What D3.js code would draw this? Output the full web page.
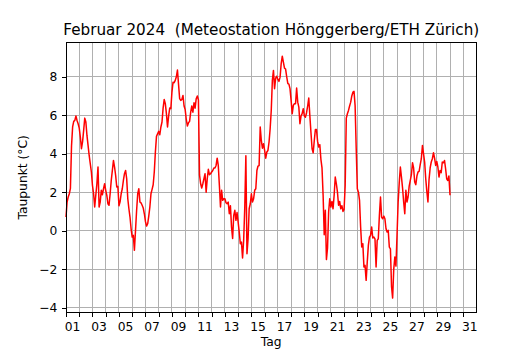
<!DOCTYPE html>
<html>
<head>
<meta charset="utf-8">
<script src="https://cdn.jsdelivr.net/npm/d3@7/dist/d3.min.js"></script>
<style>
  body { margin: 0; background: #ffffff; }
  text { font-family: "DejaVu Sans", sans-serif; fill: #000; }
</style>
</head>
<body>
<div id="chart"></div>
<script>
var stepHours = 2;
var dewPoint = [
  0.71, 1.49, 1.75, 1.92, 2.2, 4.4, 5.39, 5.68, 5.73, 5.96, 5.73, 5.56,
  5.33, 4.87, 4.26, 4.61, 5.21, 5.85, 5.65, 4.95, 4.43, 3.91, 3.48, 3.05,
  2.35, 1.92, 1.23, 1.84, 2.44, 3.31, 1.23, 1.49, 2.10, 1.87, 2.18, 2.44,
  2.10, 1.84, 1.40, 1.32, 1.92, 2.61, 3.13, 3.65, 3.31, 2.87, 2.27, 2.3,
  1.3, 1.5, 1.92, 2.18, 2.61, 2.96, 3.13, 2.70, 1.66, 1.14, 0.71, 0.10,
  -0.33, -0.24, -1.02, 0.02, 1.06, 1.92, 2.18, 1.49, 1.45, 1.32, 1.18, 0.88,
  0.48, 0.24, 0.36, 0.76, 1.23, 1.92, 2.15, 2.39, 3.05, 4.09, 4.90, 5.04,
  5.16, 4.99, 5.39, 5.65, 6.37, 6.82, 6.60, 6.08, 5.39, 5.96, 6.37, 6.34,
  7.20, 7.72, 7.69, 7.81, 8.0, 8.35, 7.6, 6.86, 6.77, 6.82, 7.03, 6.48,
  6.29, 5.78, 5.44, 5.61, 5.68, 6.16, 6.48, 6.16, 6.65, 6.37, 6.86, 7.00,
  6.8, 2.9, 2.44, 2.22, 2.44, 2.70, 2.96, 2.0, 2.70, 3.19, 2.91, 2.96,
  3.05, 3.13, 3.26, 3.26, 3.39, 3.77, 3.39, 2.35, 1.23, 2.10, 1.58, 1.66,
  1.66, 1.45, 1.40, 1.49, 0.88, 1.3, 0.2, -0.4, 0.80, 1.06, 0.54, 0.94,
  0.45, -0.07, -0.68, -0.59, -1.42, -0.50, 1.2, 3.9, -1.2, -0.42, 1.14, 1.40,
  1.92, 1.49, 1.66, 2.10, 2.18, 3.13, 3.36, 3.39, 5.39, 4.69, 4.29, 4.52,
  4.17, 3.77, 4.09, 4.17, 4.61, 5.30, 6.25, 7.81, 8.33, 7.38, 7.93, 8.03,
  7.86, 7.76, 7.98, 8.68, 9.07, 8.76, 8.45, 8.4, 8.0, 7.65, 7.62, 7.38,
  6.77, 6.08, 6.51, 6.60, 6.60, 7.41, 6.68, 6.42, 5.56, 5.96, 6.08, 6.34,
  5.96, 5.90, 6.13, 6.48, 6.89, 5.96, 5.09, 4.26, 4.05, 4.69, 5.26, 5.26,
  4.64, 4.35, 4.47, 3.71, 3.26, 1.84, -0.21, 1.06, -1.5, -0.9, 0.97, 1.66,
  1.23, 1.52, 1.14, 1.84, 2.79, 2.44, 2.0, 1.32, 1.52, 1.14, 1.3, 1.0,
  1.1, 2.35, 5.85, 6.08, 6.25, 6.48, 6.68, 7.0, 7.20, 7.24, 6.5, 4.26,
  2.18, 2.0, 1.58, 0.19, -0.85, -0.68, -1.89, -1.80, -2.58, -1.63, -0.76, -0.33,
  -0.24, 0.19, -0.38, -0.33, -0.42, -1.89, -0.50, -0.42, 0.80, 1.75, 0.71, 0.62,
  0.76, 0.62, 0.10, -0.07, 0.02, -0.85, -0.94, -2.9, -3.5, -2.0, -1.37, -1.84,
  -0.2, 1.5, 2.5, 3.31, 2.79, 2.22, 1.49, 0.88, 2.10, 1.49, 1.75, 2.32,
  2.61, 2.91, 3.53, 3.26, 2.53, 2.39, 2.84, 3.05, 3.08, 3.43, 3.74, 4.43,
  4.0, 3.57, 2.70, 2.04, 1.49, 2.67, 3.26, 3.57, 3.74, 4.05, 3.77, 3.39,
  3.60, 3.31, 2.79, 3.13, 3.01, 3.57, 3.53, 3.65, 3.22, 2.70, 2.61, 2.84,
  1.84
];

var dayTicks = d3.range(1, 32);              // Mitternacht jedes Tages
var labelDays = d3.range(1, 32, 2);          // beschriftete Tage
var yTicks = [-4, -2, 0, 2, 4, 6, 8];
var title = "Februar 2024  (Meteostation Hönggerberg/ETH Zürich)";

function drawChart() {
    var width = 530;
    var height = 350;
    var left = 66, right = 476.5, top = 42.3, bottom = 312.3;
    var fontSize = "12.3px";

    var holder = d3.select("#chart")
        .append("svg")
        .attr("width", width)
        .attr("height", height);

    var x = d3.scaleLinear().domain([1, 32]).range([left, right]);
    var y = d3.scaleLinear().domain([-4.24, 9.79]).range([bottom, top]);

    // grid
    var grid = holder.append("g")
        .attr("stroke", "#b0b0b0")
        .attr("stroke-width", 1)
        .attr("shape-rendering", "crispEdges");
    grid.selectAll(".vg")
        .data(dayTicks)
        .join("line")
        .attr("x1", function (d) { return x(d); })
        .attr("x2", function (d) { return x(d); })
        .attr("y1", top)
        .attr("y2", bottom);
    grid.selectAll(".hg")
        .data(yTicks)
        .join("line")
        .attr("x1", left)
        .attr("x2", right)
        .attr("y1", function (d) { return y(d); })
        .attr("y2", function (d) { return y(d); });

    // dew point line
    var line = d3.line()
        .x(function (d, i) { return x(1 + i * stepHours / 24); })
        .y(function (d) { return y(d); });

    holder.append("path")
        .datum(dewPoint)
        .attr("fill", "none")
        .attr("stroke", "#ff0000")
        .attr("stroke-width", 1.5)
        .attr("stroke-linejoin", "round")
        .attr("d", line);

    // frame
    holder.append("rect")
        .attr("x", left)
        .attr("y", top)
        .attr("width", right - left)
        .attr("height", bottom - top)
        .attr("fill", "none")
        .attr("stroke", "#000")
        .attr("stroke-width", 1)
        .attr("shape-rendering", "crispEdges");

    // x ticks (midnight), labels at noon
    var xAxis = holder.append("g")
        .attr("transform", "translate(0," + bottom + ")")
        .call(d3.axisBottom(x).tickValues(dayTicks).tickSize(4.3).tickFormat(""));
    xAxis.select(".domain").remove();
    xAxis.selectAll("line").attr("stroke", "#000").attr("shape-rendering", "crispEdges");

    holder.append("g")
        .selectAll("text")
        .data(labelDays)
        .join("text")
        .attr("x", function (d) { return x(d + 0.5); })
        .attr("y", 330.5)
        .attr("text-anchor", "middle")
        .style("font-size", fontSize)
        .text(function (d) { return d3.format("02d")(d); });

    // y axis
    var yAxis = holder.append("g")
        .attr("transform", "translate(" + left + ",0)")
        .call(d3.axisLeft(y).tickValues(yTicks).tickSize(4.3).tickPadding(4.3)
            .tickFormat(function (d) { return d < 0 ? "\u2212" + Math.abs(d) : d; }));
    yAxis.select(".domain").remove();
    yAxis.selectAll("line").attr("stroke", "#000").attr("shape-rendering", "crispEdges");
    yAxis.selectAll("text")
        .style("font-size", fontSize)
        .style("font-family", "DejaVu Sans")
        .attr("fill", "#000");

    // title and axis labels
    holder.append("text")
        .attr("x", (left + right) / 2)
        .attr("y", 35)
        .attr("text-anchor", "middle")
        .style("font-size", "15.2px")
        .style("white-space", "pre")
        .text(title);

    holder.append("text")
        .attr("x", (left + right) / 2)
        .attr("y", 346)
        .attr("text-anchor", "middle")
        .style("font-size", fontSize)
        .text("Tag");

    holder.append("text")
        .attr("transform", "translate(26.5," + ((top + bottom) / 2) + ") rotate(-90)")
        .attr("text-anchor", "middle")
        .style("font-size", fontSize)
        .text("Taupunkt (°C)");
}

drawChart();
</script>
</body>
</html>
